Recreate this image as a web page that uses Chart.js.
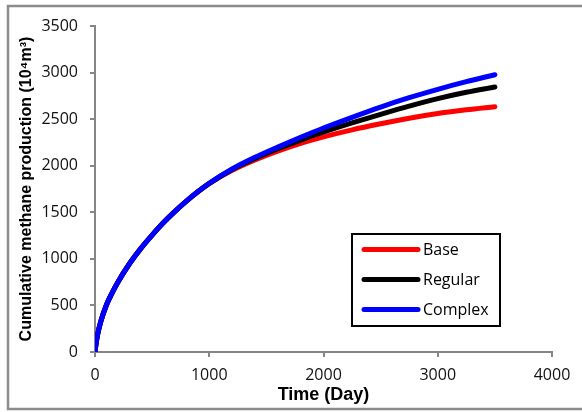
<!DOCTYPE html>
<html>
<head>
<meta charset="utf-8">
<script src="https://cdn.jsdelivr.net/npm/chart.js@4"></script>
<style>
  html, body { margin: 0; padding: 0; background: #fff; }
  #wrap { width: 582px; height: 412px; }
</style>
</head>
<body>
<div id="wrap"><canvas id="prodChart" width="582" height="412"></canvas></div>
<script>
// time axis (days) and cumulative production for each case (10^4 m^3)
const days    = [0, 10, 25, 50, 100, 150, 200, 300, 400, 500, 600, 700, 800, 900, 1000, 1200, 1400, 1600, 1800, 2000, 2250, 2500, 2750, 3000, 3250, 3500];
const base    = [0, 95, 200, 325, 505, 635, 750, 945, 1110, 1255, 1390, 1510, 1620, 1720, 1808, 1950, 2062, 2157, 2240, 2310, 2385, 2450, 2510, 2560, 2600, 2633];
const regular = [0, 95, 200, 325, 505, 635, 750, 945, 1110, 1255, 1390, 1510, 1620, 1720, 1810, 1960, 2078, 2182, 2275, 2362, 2460, 2552, 2640, 2720, 2788, 2845];
const complex = [0, 95, 200, 325, 505, 635, 750, 945, 1110, 1255, 1390, 1510, 1620, 1720, 1812, 1965, 2090, 2200, 2305, 2405, 2520, 2630, 2730, 2820, 2902, 2977];

const seriesNames  = ['Base', 'Regular', 'Complex'];
const seriesColors = ['#ff0000', '#000000', '#0000ff'];
const seriesData   = [base, regular, complex];

const xTicks = { min: 0, max: 4000, step: 1000 };
const yTicks = { min: 0, max: 3500, step: 500 };

const axisGray = '#868686';
const tickFont = { family: '"Open Sans", "Noto Sans", sans-serif', size: 16 };

// grey frame round the whole picture
const framePlugin = {
    id: 'frame',
    afterDraw(chart) {
        const ctx = chart.ctx;
        ctx.save();
        ctx.strokeStyle = '#8c8c8c';
        ctx.lineWidth = 2.5;
        ctx.strokeRect(8, 6, 600, 403);
        ctx.restore();
    }
};

// boxed legend inside the plot area
const boxLegend = {
    id: 'boxLegend',
    afterDatasetsDraw(chart) {
        const ctx = chart.ctx;
        const x = 352, y = 234, w = 148, h = 92;
        ctx.save();
        ctx.fillStyle = '#fff';
        ctx.fillRect(x, y, w, h);
        ctx.strokeStyle = '#000';
        ctx.lineWidth = 2;
        ctx.strokeRect(x, y, w, h);
        ctx.font = '16px "Open Sans", "Noto Sans", sans-serif';
        ctx.textBaseline = 'middle';
        ctx.lineCap = 'round';
        chart.data.datasets.forEach((ds, i) => {
            const cy = y + 15.5 + i * 30;
            ctx.strokeStyle = ds.borderColor;
            ctx.lineWidth = 5;
            ctx.beginPath();
            ctx.moveTo(364, cy);
            ctx.lineTo(418, cy);
            ctx.stroke();
            ctx.fillStyle = '#000';
            ctx.fillText(ds.label, 423, cy + 1);
        });
        ctx.restore();
    }
};

const ctx = document.getElementById('prodChart').getContext('2d');
new Chart(ctx, {
    type: 'line',
    data: {
        datasets: seriesNames.map((name, i) => ({
            label: name,
            data: days.map((d, k) => ({ x: d, y: seriesData[i][k] })),
            borderColor: seriesColors[i],
            backgroundColor: seriesColors[i],
            borderWidth: 5,
            borderCapStyle: 'round',
            borderJoinStyle: 'round',
            pointRadius: 0,
            cubicInterpolationMode: 'monotone',
            fill: false,
            order: 2 - i
        }))
    },
    options: {
        responsive: false,
        animation: false,
        layout: { padding: { left: 10, right: 30, top: 26, bottom: 6 } },
        plugins: {
            legend: { display: false },
            tooltip: { enabled: false }
        },
        scales: {
            x: {
                type: 'linear',
                min: xTicks.min,
                max: xTicks.max,
                ticks: { stepSize: xTicks.step, color: '#111', font: tickFont, padding: 9, maxRotation: 0, callback: v => String(v) },
                grid: { drawOnChartArea: false, color: axisGray, lineWidth: 2, tickLength: 5 },
                border: { color: axisGray, width: 2 },
                title: {
                    display: true,
                    text: 'Time (Day)',
                    color: '#000',
                    font: { family: '"Liberation Sans", Arial, sans-serif', size: 18, weight: 'bold' },
                    padding: { top: 0, bottom: 0 }
                },
                afterFit(scale) { scale.height = 54; }
            },
            y: {
                min: yTicks.min,
                max: yTicks.max,
                ticks: { stepSize: yTicks.step, color: '#111', font: tickFont, padding: 12, callback: v => String(v) },
                grid: { drawOnChartArea: false, color: axisGray, lineWidth: 2, tickLength: 5 },
                border: { color: axisGray, width: 2 },
                title: {
                    display: true,
                    text: 'Cumulative methane production (10\u2074m\u00b3)',
                    color: '#000',
                    font: { family: '"Liberation Sans", Arial, sans-serif', size: 16, weight: 'bold' },
                    padding: { top: 7, bottom: 0 }
                },
                afterFit(scale) { scale.width = 85; }
            }
        }
    },
    plugins: [framePlugin, boxLegend]
});
</script>
</body>
</html>
